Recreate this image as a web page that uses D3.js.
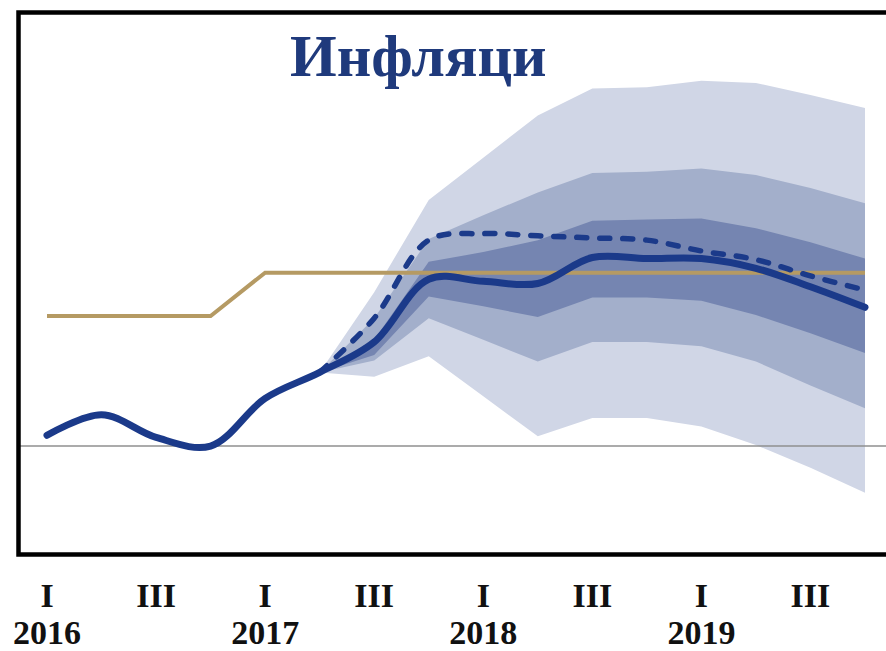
<!DOCTYPE html>
<meta charset="utf-8">
<style>
body { margin: 0; background: #fff; }
.lbl { font-family: "Liberation Serif", "Times New Roman", serif; font-weight: bold; font-size: 34px; fill: #111; }
</style>
<body>
<script src="https://d3js.org/d3.v7.min.js"></script>
<script>

// quarters 2016Q1 .. 2019Q4
var quarters = ["2016Q1","2016Q2","2016Q3","2016Q4","2017Q1","2017Q2","2017Q3","2017Q4",
                "2018Q1","2018Q2","2018Q3","2018Q4","2019Q1","2019Q2","2019Q3","2019Q4"];
var quarterLabels = ["I","","III","","I","","III","","I","","III","","I","","III",""];
var yearLabels    = ["2016","","","","2017","","","","2018","","","","2019","","",""];

// inflation, solid (actual + baseline) and dashed (alternative)
var solid  = [0.5, 1.45, 0.4, 0.0, 2.2, 3.4, 4.8, 7.7, 7.6, 7.5, 8.7, 8.65, 8.65, 8.2, 7.35, 6.4];
var dashed = [null, null, null, null, null, 3.4, 5.9, 9.5, 9.8, 9.7, 9.6, 9.5, 9.0, 8.6, 7.85, 7.2];
var target = [6, 6, 6, 6, 8, 8, 8, 8, 8, 8, 8, 8, 8, 8, 8, 8];

// fan bands (from 2017Q2)
var outerUp = [null,null,null,null,null, 3.4, 7.1, 11.35, 13.3, 15.25, 16.5, 16.55, 16.85, 16.75, 16.2, 15.6];
var midUp   = [null,null,null,null,null, 3.4, 5.9, 9.55, 10.65, 11.7, 12.6, 12.65, 12.8, 12.5, 11.9, 11.2];
var innUp   = [null,null,null,null,null, 3.4, 4.9, 8.5, 8.95, 9.5, 10.4, 10.45, 10.5, 10.05, 9.4, 8.65];
var innLo   = [null,null,null,null,null, 3.4, 4.2, 6.9, 6.45, 5.95, 6.85, 6.85, 6.7, 6.05, 5.2, 4.3];
var midLo   = [null,null,null,null,null, 3.4, 3.95, 5.9, 4.9, 3.9, 4.8, 4.8, 4.6, 3.9, 2.8, 1.75];
var outerLo = [null,null,null,null,null, 3.4, 3.2, 4.15, 2.3, 0.45, 1.3, 1.3, 0.9, 0.05, -1.0, -2.15];

var W = 886, H = 651;
var svg = d3.select("body").append("svg")
    .attr("width", W)
    .attr("height", H);

var x = d3.scalePoint().domain(quarters).range([47, 865]);
var y = d3.scaleLinear().domain([-5, 20]).range([554.5, 12.5]);

function band(lo, hi, color) {
  var data = quarters.map(function(q, i) { return {q: q, lo: lo[i], hi: hi[i]}; })
      .filter(function(d) { return d.lo != null; });
  svg.append("path")
      .datum(data)
      .attr("fill", color)
      .attr("d", d3.area()
          .x(function(d) { return x(d.q); })
          .y0(function(d) { return y(d.lo); })
          .y1(function(d) { return y(d.hi); }));
}

band(outerLo, outerUp, "#d0d6e6");
band(midLo, midUp, "#a3afcb");
band(innLo, innUp, "#7585b1");

// zero line
svg.append("line")
    .attr("x1", 20).attr("x2", W)
    .attr("y1", y(0)).attr("y2", y(0))
    .attr("stroke", "#8f8f8f")
    .attr("stroke-width", 1.5);

// frame
svg.append("rect")
    .attr("x", 18.5).attr("y", 12.5)
    .attr("width", 900).attr("height", 542)
    .attr("fill", "none")
    .attr("stroke", "#000")
    .attr("stroke-width", 4.5);

// target
svg.append("path")
    .datum(target)
    .attr("fill", "none")
    .attr("stroke", "#b59a63")
    .attr("stroke-width", 4)
    .attr("d", d3.line()
        .x(function(d, i) { return x(quarters[i]); })
        .y(function(d) { return y(d); }));

var smooth = d3.line()
    .defined(function(d) { return d != null; })
    .curve(d3.curveCatmullRom.alpha(0.5))
    .x(function(d, i) { return x(quarters[i]); })
    .y(function(d) { return y(d); });

svg.append("path")
    .datum(solid)
    .attr("fill", "none")
    .attr("stroke", "#1b3a8a")
    .attr("stroke-width", 7)
    .attr("stroke-linecap", "round")
    .attr("d", smooth);

svg.append("path")
    .datum(dashed)
    .attr("fill", "none")
    .attr("stroke", "#1b3a8a")
    .attr("stroke-width", 5.5)
    .attr("stroke-linecap", "round")
    .attr("stroke-dasharray", "10,13")
    .attr("d", smooth);

// title
svg.append("text")
    .attr("x", 290).attr("y", 76)
    .attr("font-family", "'Liberation Serif', 'Times New Roman', serif")
    .attr("font-weight", "bold")
    .attr("font-size", 60)
    .attr("fill", "#1f3a7c")
    .text("Инфляци");

// x labels
svg.selectAll(".ql")
    .data(quarters)
    .enter().append("text")
    .attr("class", "lbl")
    .attr("text-anchor", "middle")
    .attr("x", function(d) { return x(d); })
    .attr("y", 607)
    .text(function(d, i) { return quarterLabels[i]; });

svg.selectAll(".yl")
    .data(quarters)
    .enter().append("text")
    .attr("class", "lbl")
    .attr("text-anchor", "middle")
    .attr("x", function(d) { return x(d); })
    .attr("y", 644)
    .text(function(d, i) { return yearLabels[i]; });

</script>
</body>
